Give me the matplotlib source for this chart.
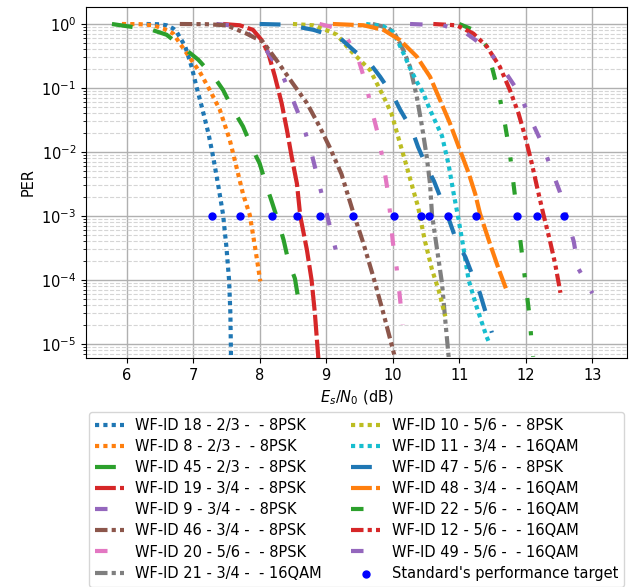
import matplotlib
matplotlib.use('Agg')
import matplotlib.pyplot as plt

plt.rcParams['font.size'] = 10.5

# --- PER curves (Es/N0 in dB, PER) ---
x_18 = [6.3, 6.5, 6.6, 6.7, 6.75, 6.88, 6.98, 7.05, 7.13, 7.23, 7.30, 7.38, 7.45, 7.50, 7.54, 7.56, 7.58]
per_18 = [1.0, 0.99, 0.955, 0.85, 0.76, 0.45, 0.21, 0.105, 0.051, 0.0195, 8.5e-3, 2.9e-3, 1.05e-3, 3.3e-4, 1.0e-4, 3.0e-5, 1e-6]

x_8 = [5.93, 6.2, 6.4, 6.55, 6.70, 6.85, 7.0, 7.10, 7.25, 7.40, 7.55, 7.65, 7.75, 7.85, 7.93, 8.01]
per_8 = [1.0, 0.993, 0.955, 0.85, 0.71, 0.42, 0.25, 0.178, 0.093, 0.046, 0.0155, 5.9e-3, 2.2e-3, 1.05e-3, 3.3e-4, 9.5e-5]

x_45 = [5.78, 6.05, 6.38, 6.6, 6.9, 7.08, 7.33, 7.45, 7.6, 7.75, 7.9, 8.0, 8.1, 8.18, 8.28, 8.36, 8.43, 8.53, 8.58, 8.67]
per_45 = [1.0, 0.91, 0.81, 0.68, 0.39, 0.275, 0.141, 0.093, 0.046, 0.025, 0.0107, 6.6e-3, 3.0e-3, 1.7e-3, 8.1e-4, 4.2e-4, 2.0e-4, 1.05e-4, 5.1e-5, 3.0e-5]

x_19 = [7.45, 7.7, 7.9, 8.03, 8.13, 8.23, 8.33, 8.41, 8.48, 8.56, 8.61, 8.71, 8.78, 8.83, 8.88, 8.91]
per_19 = [1.0, 0.955, 0.81, 0.56, 0.35, 0.15, 0.058, 0.022, 8.5e-3, 3.2e-3, 1.0e-3, 2.95e-4, 1.0e-4, 3.0e-5, 6.3e-6, 2.0e-6]

x_9 = [7.35, 7.55, 7.8, 8.1, 8.33, 8.5, 8.66, 8.78, 8.88, 8.98, 9.08, 9.19]
per_9 = [1.0, 0.955, 0.76, 0.39, 0.17, 0.065, 0.025, 9.5e-3, 3.6e-3, 1.4e-3, 5.4e-4, 1.9e-4]

x_46 = [6.8, 7.2, 7.5, 7.8, 8.05, 8.25, 8.5, 8.71, 8.9, 9.05, 9.23, 9.41, 9.56, 9.71, 9.86, 9.98, 10.03]
per_46 = [1.0, 0.993, 0.955, 0.71, 0.525, 0.275, 0.117, 0.058, 0.025, 0.012, 4.5e-3, 1.1e-3, 3.7e-4, 1.1e-4, 3.0e-5, 1.0e-5, 6.3e-6]

x_20 = [8.9, 9.1, 9.3, 9.48, 9.6, 9.69, 9.78, 9.86, 9.92, 9.96, 10.0, 10.06, 10.1, 10.15]
per_20 = [1.0, 0.89, 0.63, 0.29, 0.112, 0.043, 0.0186, 6.6e-3, 2.6e-3, 1.1e-3, 4.0e-4, 1.5e-4, 6.3e-5, 2.0e-5]

x_21 = [9.7, 9.93, 10.03, 10.16, 10.26, 10.36, 10.44, 10.51, 10.56, 10.59, 10.66, 10.74, 10.79, 10.84, 10.86]
per_21 = [1.0, 0.87, 0.71, 0.39, 0.214, 0.074, 0.025, 8.5e-3, 3.2e-3, 1.05e-3, 3.3e-4, 8.9e-5, 2.3e-5, 6.3e-6, 2.0e-6]

x_10 = [8.5, 8.8, 9.06, 9.16, 9.36, 9.66, 9.86, 9.98, 10.08, 10.21, 10.31, 10.38, 10.48, 10.59, 10.69, 10.79]
per_10 = [1.0, 0.955, 0.76, 0.68, 0.39, 0.19, 0.074, 0.04, 0.0174, 5.9e-3, 2.5e-3, 1.4e-3, 4.2e-4, 1.45e-4, 6.9e-5, 2.7e-5]

x_11 = [9.6, 9.85, 10.0, 10.08, 10.16, 10.26, 10.36, 10.46, 10.54, 10.61, 10.74, 10.84, 10.91, 10.99, 11.06, 11.14, 11.26, 11.41, 11.44]
per_11 = [1.0, 0.93, 0.76, 0.525, 0.35, 0.204, 0.126, 0.083, 0.051, 0.035, 0.0178, 6.3e-3, 2.4e-3, 8.7e-4, 3.3e-4, 1.0e-4, 3.8e-5, 1.3e-5, 1.1e-5]

x_47 = [8.0, 8.4, 8.81, 9.21, 9.41, 9.66, 9.81, 10.01, 10.11, 10.29, 10.38, 10.51, 10.62, 10.76, 10.84, 10.96, 11.09, 11.21, 11.31, 11.41, 11.49]
per_47 = [1.0, 0.977, 0.81, 0.6, 0.39, 0.24, 0.15, 0.074, 0.046, 0.022, 0.012, 5.9e-3, 3.5e-3, 1.5e-3, 9.1e-4, 4.0e-4, 2.3e-4, 1.1e-4, 6.2e-5, 2.8e-5, 1.5e-5]

x_48 = [9.1, 9.56, 9.86, 10.11, 10.36, 10.56, 10.71, 10.86, 11.01, 11.14, 11.24, 11.31, 11.46, 11.59, 11.70]
per_48 = [1.0, 0.955, 0.81, 0.56, 0.31, 0.15, 0.065, 0.028, 0.0107, 4.7e-3, 2.2e-3, 1.1e-3, 3.7e-4, 1.5e-4, 7.4e-5]

x_22 = [11.0, 11.21, 11.41, 11.51, 11.61, 11.69, 11.76, 11.81, 11.86, 11.91, 11.96, 12.01, 12.06, 12.09, 12.11]
per_22 = [1.0, 0.81, 0.45, 0.178, 0.069, 0.026, 9.5e-3, 3.5e-3, 1.3e-3, 4.8e-4, 1.8e-4, 6.6e-5, 2.5e-5, 9.1e-6, 6.3e-6]

x_12 = [10.61, 10.96, 11.21, 11.41, 11.61, 11.76, 11.89, 11.99, 12.09, 12.17, 12.26, 12.36, 12.44, 12.52]
per_12 = [1.0, 0.955, 0.71, 0.45, 0.214, 0.093, 0.04, 0.0174, 6.6e-3, 2.8e-3, 1.1e-3, 4.2e-4, 1.8e-4, 6.3e-5]

x_49 = [10.26, 10.76, 11.11, 11.41, 11.69, 11.89, 12.06, 12.24, 12.36, 12.51, 12.61, 12.72, 12.79, 13.0]
per_49 = [1.0, 0.955, 0.71, 0.42, 0.178, 0.087, 0.035, 0.0138, 6.3e-3, 2.4e-3, 9.8e-4, 4.0e-4, 1.5e-4, 6.2e-5]

labels = ['WF-ID 18 - 2/3 -  - 8PSK', 'WF-ID 8 - 2/3 -  - 8PSK', 'WF-ID 45 - 2/3 -  - 8PSK',
          'WF-ID 19 - 3/4 -  - 8PSK', 'WF-ID 9 - 3/4 -  - 8PSK', 'WF-ID 46 - 3/4 -  - 8PSK',
          'WF-ID 20 - 5/6 -  - 8PSK', 'WF-ID 21 - 3/4 -  - 16QAM', 'WF-ID 10 - 5/6 -  - 8PSK',
          'WF-ID 11 - 3/4 -  - 16QAM', 'WF-ID 47 - 5/6 -  - 8PSK', 'WF-ID 48 - 3/4 -  - 16QAM',
          'WF-ID 22 - 5/6 -  - 16QAM', 'WF-ID 12 - 5/6 -  - 16QAM', 'WF-ID 49 - 5/6 -  - 16QAM']

# standard's performance target (PER = 1e-3)
target_x = [7.29, 7.70, 8.18, 8.56, 8.90, 9.40, 10.02, 10.42, 10.55, 10.83, 11.25, 11.86, 12.17, 12.58]
target_per = [1e-3] * len(target_x)

curves = [(x_18, per_18), (x_8, per_8), (x_45, per_45), (x_19, per_19), (x_9, per_9),
          (x_46, per_46), (x_20, per_20), (x_21, per_21), (x_10, per_10), (x_11, per_11),
          (x_47, per_47), (x_48, per_48), (x_22, per_22), (x_12, per_12), (x_49, per_49)]

DOT = (0, (1, 1))
DASH = (0, (5, 5))
DENSE_DASH = (0, (5, 1))
DASHDOT = (0, (3, 5, 1, 5))
DASHDOTDOT = (0, (3, 1, 1, 1, 1, 1))
styles = [DOT, DOT, DASH, DENSE_DASH, DASHDOT, DASHDOTDOT, DASHDOT, DASHDOTDOT]
colors = plt.rcParams['axes.prop_cycle'].by_key()['color']

fig = plt.figure(figsize=(6.3, 5.87), dpi=100)
ax = fig.add_axes([0.1365, 0.3901, 0.8587, 0.598])

for i, ((xs, ps), lab) in enumerate(zip(curves, labels)):
    ax.plot(xs, ps, linestyle=styles[i % len(styles)], color=colors[i % len(colors)],
            linewidth=3, label=lab)

ax.scatter(target_x, target_per, color='blue', s=25, zorder=5,
           label="Standard's performance target")

ax.set_yscale('log')
ax.set_xlim(5.39, 13.52)
ax.set_ylim(10**-5.22, 10**0.266)
ax.grid(which='major', color='#b0b0b0', linestyle='-', linewidth=1.0)
ax.grid(which='minor', axis='y', color='#d5d5d5', linestyle='--', linewidth=0.8)
ax.set_axisbelow(True)
ax.set_xlabel('$E_s/N_0$ (dB)')
ax.set_ylabel('PER')

ax.legend(loc='upper center', bbox_to_anchor=(0.5, -0.133), ncol=2, labelspacing=0.42)

plt.savefig('out.png', dpi=100)
plt.close()
